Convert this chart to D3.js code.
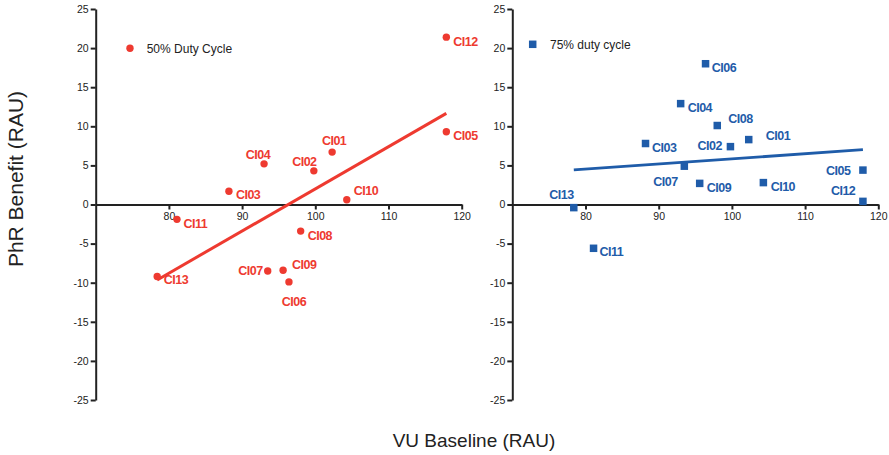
<!DOCTYPE html>
<html>
<head>
<meta charset="utf-8">
<script src="https://cdn.jsdelivr.net/npm/d3@7"></script>
<style>
    body { margin: 0; background: #fff; }
    svg { display: block; font-family: "Liberation Sans", Arial, sans-serif; }
    .axis path, .axis line { stroke: #222; stroke-width: 2; }
    .axis text { font-size: 10.5px; fill: #222; font-family: "Liberation Sans", Arial, sans-serif; }
</style>
</head>
<body>
<svg id="chart"></svg>
<script>
// data
const implants = ['CI01','CI02','CI03','CI04','CI05','CI06','CI07','CI08','CI09','CI10','CI11','CI12','CI13'];
const vuBaseline = [102.3, 99.8, 88.2, 93.0, 117.9, 96.4, 93.5, 98.0, 95.6, 104.3, 81.1, 117.9, 78.4];
const benefit50 = [6.7, 4.3, 1.7, 5.2, 9.3, -9.9, -8.5, -3.4, -8.4, 0.6, -1.9, 21.4, -9.2];
const benefit75 = [8.3, 7.4, 7.8, 12.9, 4.4, 18.0, 4.9, 10.1, 2.7, 2.8, -5.6, 0.4, -0.4];
const xTicks = [80, 90, 100, 110, 120];
const yTicks = [-25, -20, -15, -10, -5, 0, 5, 10, 15, 20, 25];

// label placement: [dx, dy, anchor]
const labelPos50 = {
    CI01: [2, -12, 'middle'], CI02: [-9.5, -9, 'middle'], CI03: [7, 3, 'start'],
    CI04: [-6, -9, 'middle'], CI05: [7, 3.5, 'start'], CI06: [5, 20, 'middle'],
    CI07: [-5, 0, 'end'], CI08: [7, 4, 'start'], CI09: [9, -6, 'start'],
    CI10: [7, -9, 'start'], CI11: [6.5, 4, 'start'], CI12: [7, 4, 'start'], CI13: [6.5, 3.5, 'start']
};
const labelPos75 = {
    CI01: [17, -4, 'start'], CI02: [-8.5, -1, 'end'], CI03: [6.5, 3.7, 'start'],
    CI04: [7, 3.4, 'start'], CI05: [-12.5, 0, 'end'], CI06: [6.3, 3.4, 'start'],
    CI07: [-6.7, 15.7, 'end'], CI08: [11, -7, 'start'], CI09: [7, 3.7, 'start'],
    CI10: [7.3, 3.4, 'start'], CI11: [6, 3.7, 'start'], CI12: [-7.6, -11, 'end'], CI13: [-12.3, -13.3, 'middle']
};

const svg = d3.select('#chart').attr('width', 889).attr('height', 455);

class ScatterPanel{
    constructor(config, values){
        this.config = config;
        this.data = implants.map((name, i) => ({name: name, x: vuBaseline[i], y: values[i]}));
        this.init();
    }

    init(){
        const c = this.config;
        this.xscale = d3.scaleLinear().domain([70, 120]).range([c.left, c.right]);
        this.yscale = d3.scaleLinear().domain([-25, 25]).range([400, 9]);

        this.g = svg.append('g');

        this.g.append('g')
            .attr('class', 'axis')
            .attr('transform', `translate(0, ${this.yscale(0)})`)
            .call(d3.axisBottom(this.xscale).tickValues(xTicks).tickFormat(d => String(d))
                .tickSize(5).tickSizeOuter(0).tickPadding(3));

        this.g.append('g')
            .attr('class', 'axis')
            .attr('transform', `translate(${c.left}, 0)`)
            .call(d3.axisLeft(this.yscale).tickValues(yTicks).tickFormat(d => String(d))
                .tickSize(5).tickSizeOuter(0).tickPadding(2));

        this.render();
    }

    render(){
        const c = this.config;
        const xs = this.xscale, ys = this.yscale;

        // least squares fit
        const mx = d3.mean(this.data, d => d.x), my = d3.mean(this.data, d => d.y);
        const slope = d3.sum(this.data, d => (d.x - mx) * (d.y - my)) / d3.sum(this.data, d => (d.x - mx) ** 2);
        const ext = d3.extent(this.data, d => d.x);
        this.g.append('line')
            .attr('x1', xs(ext[0])).attr('y1', ys(my + slope * (ext[0] - mx)))
            .attr('x2', xs(ext[1])).attr('y2', ys(my + slope * (ext[1] - mx)))
            .attr('stroke', c.color).attr('stroke-width', c.lineWidth);

        if(c.shape === 'circle'){
            this.g.selectAll('.pt').data(this.data).join('circle')
                .attr('cx', d => xs(d.x)).attr('cy', d => ys(d.y)).attr('r', 3.7)
                .attr('fill', c.color);
        } else {
            this.g.selectAll('.pt').data(this.data).join('rect')
                .attr('x', d => xs(d.x) - 3.75).attr('y', d => ys(d.y) - 3.75)
                .attr('width', 7.5).attr('height', 7.5)
                .attr('fill', c.color);
        }

        this.g.selectAll('.lbl').data(this.data).join('text')
            .attr('x', d => xs(d.x) + c.labels[d.name][0])
            .attr('y', d => ys(d.y) + c.labels[d.name][1])
            .attr('dy', '0.36em')
            .attr('text-anchor', d => c.labels[d.name][2])
            .attr('font-size', '12.5px').attr('font-weight', 'bold')
            .attr('letter-spacing', '-0.5px')
            .attr('fill', c.color)
            .text(d => d.name);

        // legend
        const lg = this.g.append('g').attr('transform', `translate(${c.legend[0]}, ${c.legend[1]})`);
        if(c.shape === 'circle'){
            lg.append('circle').attr('r', 3.7).attr('fill', c.color);
        } else {
            lg.append('rect').attr('x', -3.75).attr('y', -3.75).attr('width', 7.5).attr('height', 7.5).attr('fill', c.color);
        }
        lg.append('text')
            .attr('x', c.legend[2]).attr('dy', '0.36em')
            .attr('font-size', '12px').attr('fill', '#222')
            .text(c.title);
    }
}

new ScatterPanel({left: 95.7, right: 461.7, color: '#ee3a30', lineWidth: 3, shape: 'circle',
    labels: labelPos50, legend: [130, 48.3, 16.7], title: '50% Duty Cycle'}, benefit50);

new ScatterPanel({left: 512.3, right: 878.3, color: '#1f5ca9', lineWidth: 2.8, shape: 'square',
    labels: labelPos75, legend: [532.7, 44.3, 17.3], title: '75% duty cycle'}, benefit75);

// axis titles
svg.append('text')
    .attr('transform', 'translate(23, 179) rotate(-90)')
    .attr('text-anchor', 'middle')
    .attr('font-size', '21px').attr('fill', '#222')
    .text('PhR Benefit (RAU)');

svg.append('text')
    .attr('x', 474).attr('y', 447)
    .attr('text-anchor', 'middle')
    .attr('font-size', '19px').attr('fill', '#222')
    .text('VU Baseline (RAU)');
</script>
</body>
</html>
